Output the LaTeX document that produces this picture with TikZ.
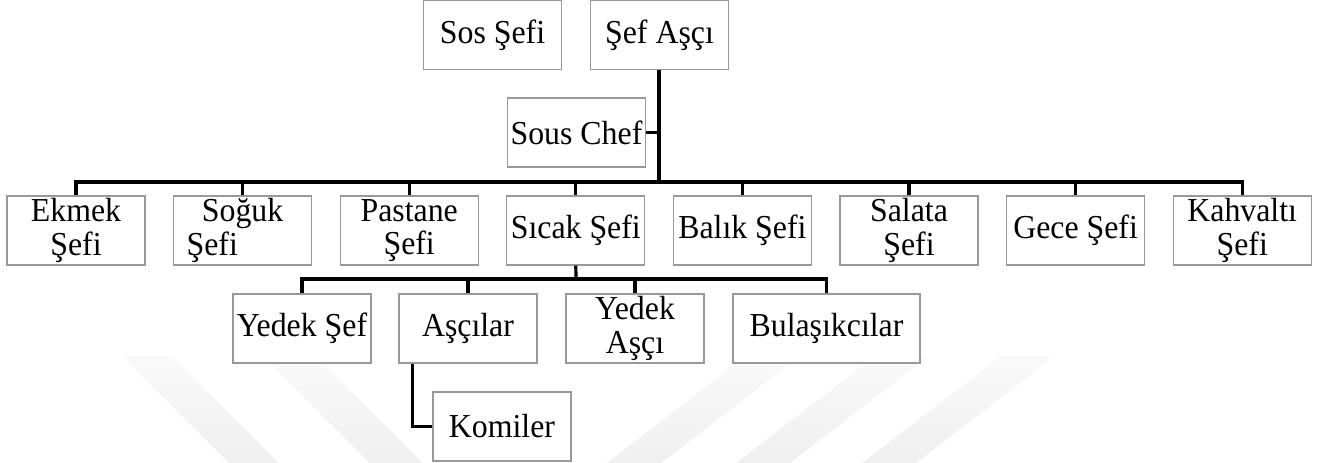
\documentclass[tikz,border=0pt]{standalone}
\usepackage{fontspec}
\setmainfont[FakeStretch=0.95]{Liberation Serif}
\begin{document}
\begin{tikzpicture}[x=1pt,y=-1pt,
  box/.style={draw=black!40, line width=1.3pt, fill=white, inner sep=0pt,
    minimum width=138pt, minimum height=69pt, align=center,
    font=\fontsize{33.5}{33.5}\selectfont},
  link/.style={draw=black, line width=3.2pt, line join=miter},
  band/.style={top color=black!2, bottom color=black!6}]
\useasboundingbox (0,0) rectangle (1325,463);

% faint background bands
\shade[band] (122,356) -- (172,356) -- (279,463) -- (229,463) -- cycle;
\shade[band] (263,356) -- (316,356) -- (423,463) -- (370,463) -- cycle;
\shade[band] (746,356) -- (800,356) -- (661,463) -- (607,463) -- cycle;
\shade[band] (875,356) -- (929,356) -- (790,463) -- (736,463) -- cycle;
\shade[band] (1001,356) -- (1055,356) -- (916,463) -- (862,463) -- cycle;

% head of the kitchen
\node[box] (sos)  at (492.5,35)  {Sos Şefi};
\node[box] (sef)  at (659.5,35)  {Şef Aşçı};
\node[box] (sous) at (576.5,132.5) {Sous Chef};

% section chefs
\node[box] (ekmek)    at (76,230.5)    {Ekmek\\Şefi};
\node[box] (soguk)    at (242.6,230.5) {Soğuk\\\makebox[112pt][l]{Şefi}};
\node[box] (pastane)  at (409.2,230.5) {Pastane\\Şefi};
\node[box] (sicak)    at (575.8,230.5) {Sıcak Şefi};
\node[box] (balik)    at (742.4,230.5) {Balık Şefi};
\node[box] (salata)   at (909,230.5)   {Salata\\Şefi};
\node[box] (gece)     at (1075.6,230.5) {Gece Şefi};
\node[box] (kahvalti) at (1242.2,230.5) {Kahvaltı\\Şefi};

% hot kitchen staff
\node[box] (yedeksef)  at (302,328.5) {Yedek Şef};
\node[box] (ascilar)   at (468,328.5) {Aşçılar};
\node[box] (yedekasci) at (635,328.5) {Yedek\\Aşçı};
\node[box, minimum width=187pt] (bulasik) at (826.5,328.5) {Bulaşıkcılar};
\node[box] (komiler)   at (502,426.5) {Komiler};

% bus lines
\coordinate (busA) at (659,182);
\coordinate (busB) at (576,279);

% connectors
\draw[link] (sef.south -| busA) -- (busA);
\draw[link] (sous.east) -- (sous.east -| busA);
\draw[link] (ekmek.north) |- (kahvalti.north |- busA) -- (kahvalti.north);
\foreach \n in {soguk,pastane,sicak,balik,salata,gece}
  \draw[link] (\n.north) -- (\n.north |- busA);

\draw[link] (sicak.south) -- (busB);
\draw[link] (yedeksef.north) |- (bulasik.north |- busB) -- (bulasik.north);
\foreach \n in {ascilar,yedekasci}
  \draw[link] (\n.north) -- (\n.north |- busB);

\draw[link] ([xshift=14pt]ascilar.south west) |- (komiler.west);
\end{tikzpicture}
\end{document}
